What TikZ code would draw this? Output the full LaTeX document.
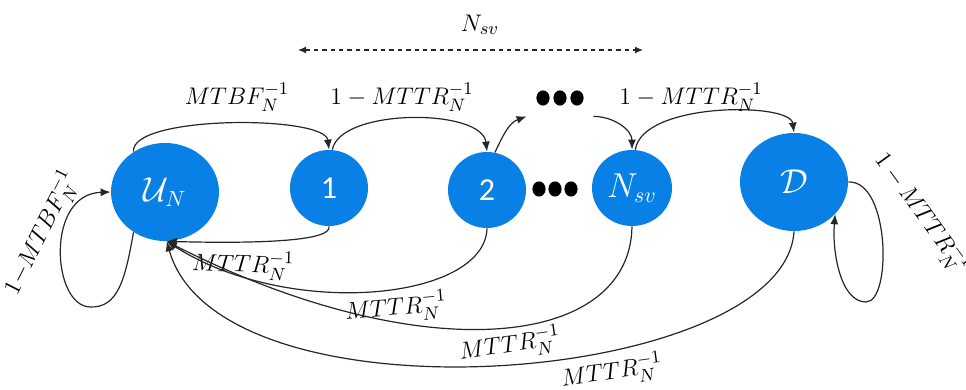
\documentclass[tikz,border=0pt]{standalone}
\usepackage{fontspec}
\newfontfamily\numfont{Carlito}
\usetikzlibrary{shapes.geometric,arrows.meta}
\definecolor{stateblue}{RGB}{8,128,229}
\begin{document}
\begin{tikzpicture}[x=0.5pt,y=0.5pt,
  state/.style={ellipse, fill=stateblue, inner sep=0pt, text=white, font=\fontsize{16}{18}\selectfont},
  bigstate/.style={state, minimum width=54pt, minimum height=49pt},
  smallstate/.style={state, minimum width=39pt, minimum height=38pt},
  trans/.style={-{Latex[length=5pt,width=4pt]}, line width=0.6pt, black!85},
  lbl/.style={font=\fontsize{13}{15}\selectfont, inner sep=1pt},
  dotsbox/.style={minimum width=18pt, minimum height=8pt, inner sep=0pt},
  topdots/.style={minimum width=33pt, minimum height=16pt, inner sep=0pt}]
\useasboundingbox (0,0) rectangle (966,390);

% states
\node[bigstate] (U) at (165,198) {$\mathcal{U}_N$};
\node[smallstate] (n1) at (329,202) {\numfont 1};
\node[smallstate] (n2) at (487,200) {\numfont 2};
\node[smallstate, minimum width=40pt] (nsv) at (632,202) {$N_{sv}$};
\node[bigstate] (D) at (794,208) {$\mathcal{D}$};

% dots
\node[topdots] (dt) at (560,290) {};
\foreach \dx in {-17,0,17} \fill ([xshift=\dx*0.5pt, yshift=1pt]dt.center) ellipse (3.3pt and 3.8pt);
\node[dotsbox] (db) at (555,201) {};
\foreach \dx in {-16,0,16} \fill ([xshift=\dx*0.5pt]db.center) ellipse (3.3pt and 3.8pt);

% N_sv span
\node[lbl] (nsvlbl) at (480,365) {$N_{sv}$};
\coordinate (spanL) at (298,340);
\coordinate (spanR) at (643,340);
\draw[{Latex[length=4pt,width=3.5pt]}-{Latex[length=4pt,width=3.5pt]}, dashed, dash pattern=on 2.2pt off 2pt, line width=0.6pt, black!85] (spanL) -- (spanR);

% forward transitions
\draw[trans] (U.128) .. controls (130,275) and (325,275) .. (n1.north);
\node[lbl] (l1) at (237,293) {$MTBF_N^{-1}$};
\draw[trans] (n1.85) .. controls (340,282) and (482,282) .. (n2.north);
\node[lbl] (l2) at (402,293) {$1-MTTR_N^{-1}$};
\draw[trans] (n2.78) to[out=65,in=200] (dt.south west);
\draw[trans] (dt.south east) to[out=0,in=90] (nsv.north);
\draw[trans] (nsv.85) .. controls (642,288) and (790,288) .. (D.north);
\node[lbl] (l3) at (691,293) {$1-MTTR_N^{-1}$};

% self loops
\draw[trans] (U.232) .. controls (125,110) and (118,82) .. (90,83)
  .. controls (52,84) and (45,196) .. (U.west);
\node[lbl, rotate=63] (lu) at (41,157) {$1{-}MTBF_N^{-1}$};
\draw[trans] (D.east) .. controls (890,210) and (892,88) .. (866,88)
  .. controls (840,88) and (832,140) .. (D.-38);
\node[lbl, rotate=-54] (ld) at (922,177) {$1-MTTR_N^{-1}$};

% return transitions
\draw[trans] (n1.south) .. controls (332,150) and (270,146) .. (U.-88);
\node[lbl, rotate=-2] (r1) at (243,125) {$MTTR_N^{-1}$};
\draw[trans] (n2.south) .. controls (485,90) and (290,70) .. (U.-88);
\node[lbl, rotate=5] (r2) at (396,82) {$MTTR_N^{-1}$};
\draw[trans] (nsv.south) .. controls (630,40) and (420,20) .. (U.-88);
\node[lbl, rotate=8] (r3) at (510,45) {$MTTR_N^{-1}$};
\draw[trans] (D.south) .. controls (785,5) and (220,-40) .. (U.-88);
\node[lbl, rotate=8] (r4) at (612,18) {$MTTR_N^{-1}$};
\end{tikzpicture}
\end{document}
